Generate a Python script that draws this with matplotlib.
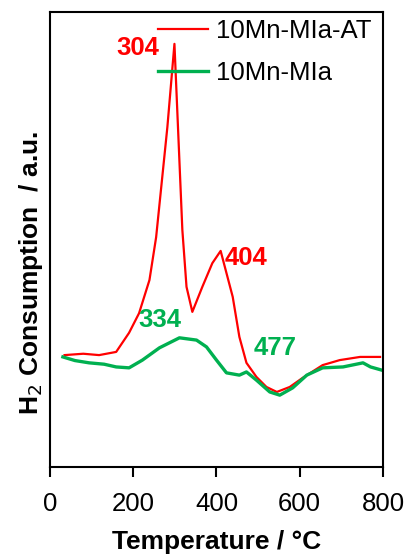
import matplotlib.pyplot as plt

plt.rcParams['font.family'] = ['Liberation Sans', 'DejaVu Sans']

# data (temperature in degC, signal in arbitrary units)
temp_at = [35, 80, 118, 159, 190, 214, 239, 255, 282, 299, 318, 328, 342, 366, 390,
           410, 439, 455, 472, 496, 520, 545, 576, 607, 655, 696, 745, 793]
h2_at = [24.6, 24.9, 24.6, 25.3, 29.5, 33.8, 41.1, 50.5, 74.7, 93.0, 52.1, 39.6, 34.1,
         39.6, 44.8, 47.5, 37.4, 28.6, 22.9, 19.8, 17.6, 16.5, 17.6, 19.6, 22.4, 23.5,
         24.2, 24.2]

temp_mla = [31, 60, 94, 130, 159, 190, 222, 263, 311, 352, 376, 400, 424, 455, 472,
            496, 528, 552, 583, 617, 655, 704, 752, 770, 797]
h2_mla = [24.2, 23.4, 22.9, 22.6, 22.0, 21.8, 23.5, 26.2, 28.4, 27.9, 26.4, 23.5, 20.7,
          20.2, 20.9, 19.1, 16.5, 15.8, 17.4, 20.2, 21.8, 22.0, 22.9, 22.0, 21.3]

labels = ['10Mn-MIa-AT', '10Mn-MIa']
peaks_at = [304, 404]
peaks_mla = [334, 477]

red = '#FF0000'
green = '#00B050'
fs = 18.5

fig = plt.figure(figsize=(4.09, 5.56), dpi=100)
ax = fig.add_axes([0.1222, 0.160, 0.8142, 0.8184])

ax.plot(temp_at, h2_at, color=red, lw=1.6, label=labels[0])
ax.plot(temp_mla, h2_mla, color=green, lw=2.4, label=labels[1])

# peak labels (placed beside the peaks, like the original)
ax.text(210, 92.1, str(peaks_at[0]), color=red, fontsize=fs, fontweight='bold',
        ha='center', va='center')
ax.text(472, 45.9, str(peaks_at[1]), color=red, fontsize=fs, fontweight='bold',
        ha='center', va='center')
ax.text(265, 32.3, str(peaks_mla[0]), color=green, fontsize=fs, fontweight='bold',
        ha='center', va='center')
ax.text(542, 26.2, str(peaks_mla[1]), color=green, fontsize=fs, fontweight='bold',
        ha='center', va='center')

ax.set_xlim(0, 800)
ax.set_ylim(0, 100)
ax.set_xticks([0, 200, 400, 600, 800])
ax.set_yticks([])
ax.tick_params(axis='x', direction='out', length=7, width=1.5, labelsize=fs, pad=11)
for s in ax.spines.values():
    s.set_linewidth(1.5)

ax.set_xlabel('Temperature / °C', fontsize=fs + 0.5, fontweight='bold', labelpad=10)
ax.set_ylabel('H$_2$ Consumption  / a.u.', fontsize=fs + 0.5, fontweight='bold')
ax.yaxis.set_label_coords(-0.015, 0.426)

ax.legend(loc='upper left', bbox_to_anchor=(0.324, 0.985), frameon=False, fontsize=fs,
          handlelength=1.95, handletextpad=0.3, labelspacing=0.7, borderaxespad=0,
          borderpad=0)

fig.savefig('out.png', dpi=100)
